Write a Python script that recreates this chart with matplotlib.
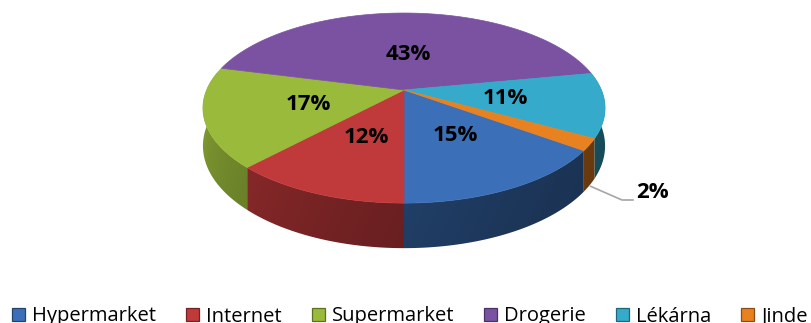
import numpy as np
import matplotlib.pyplot as plt
from matplotlib.patches import Polygon, Rectangle
from matplotlib.colors import to_rgb

plt.rcParams['font.family'] = ['Open Sans', 'DejaVu Sans']

# ----------------------------------------------------------------------
categories = ['Hypermarket', 'Internet', 'Supermarket', 'Drogerie', 'Lékárna', 'Jinde']
values = [15, 12, 17, 43, 11, 2]
labels = ['15%', '12%', '17%', '43%', '11%', '2%']
colors = ['#3b70b8', '#c0393b', '#9aba3c', '#7b52a1', '#35aacb', '#e8811f']

# ----------------------------------------------------------------------
# fake 3D pie: a tilted disc in perspective (pixel coordinates)
CX, CY = 404, 90       # pie centre on screen
A = 197.4              # horizontal radius
K = 91.6               # vertical radius
C = 0.19               # perspective strength
H = 36.5               # thickness
W, HH = 811, 323


def proj(r, th, z=0.0):
    u = r * np.cos(th)
    v = r * np.sin(th)
    d = 1 + C * v
    return CX + A * u / d, CY - K * v / d + z * H / d


fig = plt.figure(figsize=(8.11, 3.23), dpi=100)
ax = fig.add_axes([0, 0, 1, 1])
ax.set_xlim(0, W)
ax.set_ylim(HH, 0)
ax.axis('off')

total = float(sum(values))
start = np.radians(-90 + 360 * values[0] / total)
bounds = []
a = start
for v in values:
    b = a - 2 * np.pi * v / total
    bounds.append((a, b))
    a = b

# shading of the wall: darker to the right and a bit towards the bottom
xs = np.arange(W) + 0.5
ys = np.arange(HH) + 0.5
t = np.arccos(np.clip((xs - CX) / 201.0, -1, 1)) / np.pi
fx = 0.45 + 0.4 * t ** 1.5
fy = 1.0 - 0.08 * np.clip((ys - 100) / 150.0, 0, 1)
fac = fy[:, None] * fx[None, :]

# outer wall (front half only)
for (a, b), col in zip(bounds, colors):
    lo, hi = max(min(a, b), -np.pi - 0.2), min(max(a, b), 0.2)
    if lo >= hi:
        # slice lies (partly) at the back, check wrap
        lo2, hi2 = min(a, b) + 2 * np.pi, max(a, b) + 2 * np.pi
        lo, hi = max(lo2, -np.pi - 0.2), min(hi2, 0.2)
        if lo >= hi:
            lo2, hi2 = min(a, b) - 2 * np.pi, max(a, b) - 2 * np.pi
            lo, hi = max(lo2, -np.pi - 0.2), min(hi2, 0.2)
            if lo >= hi:
                continue
    ths = np.linspace(lo, hi, 100)
    top = [proj(1, th) for th in ths]
    bot = [proj(1, th, 1) for th in ths[::-1]]
    poly = Polygon(top + bot, closed=True, facecolor='none', edgecolor='none')
    ax.add_patch(poly)
    img = np.clip(fac[:, :, None] * np.array(to_rgb(col))[None, None, :], 0, 1)
    im = ax.imshow(img, extent=(0, W, HH, 0), interpolation='bilinear', zorder=1)
    im.set_clip_path(poly)

# top faces
for (a, b), col in zip(bounds, colors):
    ths = np.linspace(a, b, 120)
    pts = [proj(0, 0)] + [proj(1, th) for th in ths]
    ax.add_patch(Polygon(pts, closed=True, facecolor=col, edgecolor=col,
                         linewidth=0.5, zorder=2))
ax.set_xlim(0, W)
ax.set_ylim(HH, 0)
ax.set_aspect('auto')

# percentage labels
for (a, b), lab in zip(bounds, labels):
    m = 0.5 * (a + b)
    if lab == '2%':
        x0, y0 = proj(1, m, 1)
        ax.plot([x0 + 1, 622, 633], [y0 + 1, 200, 200], color='#a6a6a6', lw=1.2, zorder=3)
        ax.text(636, 193, lab, fontsize=16, fontweight='bold', ha='left', va='center', zorder=4)
    else:
        r = 0.43 if lab == '43%' else 0.5
        x, y = proj(r, m)
        ax.text(x + 2, y + 1, lab, fontsize=16, fontweight='bold', ha='center', va='center',
                zorder=4)

# legend, laid out by hand along one baseline
fig.canvas.draw()
renderer = fig.canvas.get_renderer()
x = 12
base = 321.5
for name, col in zip(categories, colors):
    dark = tuple(np.array(to_rgb(col)) * 0.6)
    ax.add_patch(Rectangle((x, base - 13.5), 13, 13, facecolor=col, edgecolor=dark,
                           linewidth=0.9, zorder=3))
    txt = ax.text(x + 20, base, name, fontsize=14.5, ha='left', va='baseline', zorder=3)
    bb = txt.get_window_extent(renderer)
    x = x + 20 + bb.width + 30

fig.savefig('out.png', dpi=100)
